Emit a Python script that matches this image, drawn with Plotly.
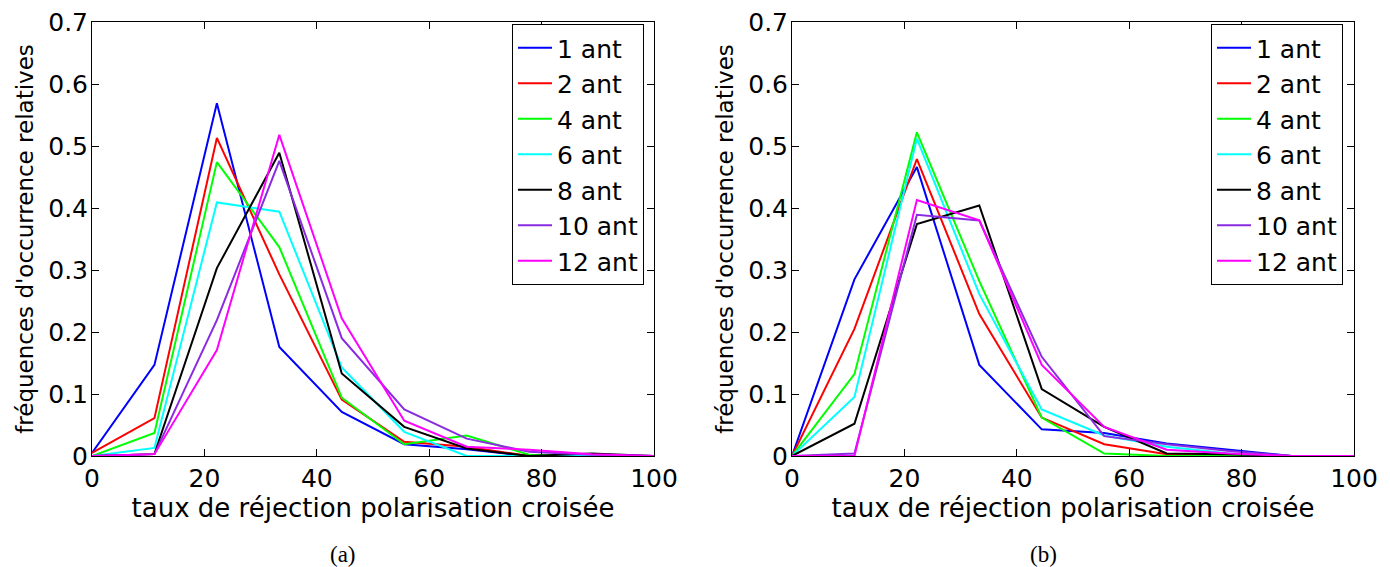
import plotly.graph_objects as go

x_bins = [0, 11.11, 22.22, 33.33, 44.44, 55.56, 66.67, 77.78, 88.89, 100]
labels = ["1 ant", "2 ant", "4 ant", "6 ant", "8 ant", "10 ant", "12 ant"]
colors = ["#0000FF", "#FF0000", "#00FF00", "#00FFFF", "#000000", "#8A2BE2", "#FF00FF"]

# panel (a)
a_1 = [0.005, 0.147, 0.569, 0.176, 0.071, 0.019, 0.011, 0.0, 0.0, 0.0]
a_2 = [0.005, 0.061, 0.513, 0.293, 0.091, 0.023, 0.015, 0.0, 0.0, 0.0]
a_4 = [0.0, 0.037, 0.474, 0.337, 0.094, 0.019, 0.033, 0.002, 0.0, 0.0]
a_6 = [0.0, 0.013, 0.409, 0.394, 0.143, 0.039, 0.0, 0.0, 0.0, 0.0]
a_8 = [0.0, 0.003, 0.303, 0.489, 0.133, 0.047, 0.012, 0.0, 0.004, 0.0]
a_10 = [0.0, 0.003, 0.219, 0.476, 0.190, 0.075, 0.028, 0.007, 0.002, 0.0]
a_12 = [0.0, 0.003, 0.171, 0.518, 0.222, 0.057, 0.015, 0.010, 0.003, 0.0]

# panel (b)
b_1 = [0.0, 0.285, 0.466, 0.147, 0.043, 0.037, 0.020, 0.010, 0.0, 0.0]
b_2 = [0.0, 0.205, 0.479, 0.229, 0.062, 0.019, 0.003, 0.0, 0.0, 0.0]
b_4 = [0.0, 0.132, 0.522, 0.282, 0.062, 0.004, 0.0, 0.0, 0.0, 0.0]
b_6 = [0.0, 0.095, 0.512, 0.261, 0.075, 0.033, 0.015, 0.004, 0.0, 0.0]
b_8 = [0.0, 0.052, 0.374, 0.404, 0.108, 0.047, 0.004, 0.003, 0.0, 0.0]
b_10 = [0.0, 0.004, 0.389, 0.380, 0.160, 0.032, 0.019, 0.008, 0.0, 0.0]
b_12 = [0.0, 0.0, 0.413, 0.380, 0.147, 0.047, 0.010, 0.004, 0.0, 0.0]

panel_a = [a_1, a_2, a_4, a_6, a_8, a_10, a_12]
panel_b = [b_1, b_2, b_4, b_6, b_8, b_10, b_12]

x_ticks = [0, 20, 40, 60, 80, 100]
y_ticks = [0, 0.1, 0.2, 0.3, 0.4, 0.5, 0.6, 0.7]
y_ticktext = ["0", "0.1", "0.2", "0.3", "0.4", "0.5", "0.6", "0.7"]
x_title = "taux de réjection polarisation croisée"
y_title = "fréquences d'occurrence relatives"
captions = ["(a)", "(b)"]

W, H = 1390, 567
OFF = 8  # page body margin offset in the screenshot
FONT = "DejaVu Sans, Verdana, sans-serif"
FS = 25

# plot-area margins (figure pixels)
ML, MR, MT, MB = 84, 44, 14, 119
PW = W - ML - MR
PH = H - MT - MB

def px_x(p):
    return (p - OFF - ML) / PW

def px_y(p):
    return (H - MB - (p - OFF)) / PH

fig = go.Figure()
for i, (lab, col) in enumerate(zip(labels, colors)):
    fig.add_trace(go.Scatter(x=x_bins, y=panel_a[i], mode="lines", name=lab,
                             line=dict(color=col, width=2), xaxis="x", yaxis="y",
                             legend="legend"))
for i, (lab, col) in enumerate(zip(labels, colors)):
    fig.add_trace(go.Scatter(x=x_bins, y=panel_b[i], mode="lines", name=lab,
                             line=dict(color=col, width=2), xaxis="x2", yaxis="y2",
                             legend="legend2"))

xdom1 = [px_x(92), px_x(654)]
xdom2 = [px_x(792), px_x(1354)]

def xax(dom, anchor):
    return dict(domain=dom, anchor=anchor, range=[0, 100], tickvals=x_ticks,
                ticks="inside", ticklen=7, tickcolor="black", showline=True,
                linecolor="black", linewidth=1, mirror="ticks", showgrid=False,
                zeroline=False, automargin="bottom", ticklabeloverflow="allow",
                tickfont=dict(size=FS, color="black", family=FONT),
                title=dict(text=x_title, standoff=3,
                           font=dict(size=26, color="black", family=FONT)))

def yax(anchor):
    return dict(domain=[0, 1], anchor=anchor, range=[0, 0.70001], tickvals=y_ticks,
                ticktext=y_ticktext, ticks="inside", ticklen=7, tickcolor="black",
                showline=True, linecolor="black", linewidth=1, mirror="ticks",
                showgrid=False, zeroline=False, automargin="left",
                ticklabelstandoff=-2, ticklabeloverflow="allow",
                tickfont=dict(size=FS, color="black", family=FONT),
                title=dict(text=y_title, standoff=8,
                           font=dict(size=23, color="black", family=FONT)))

def leg(xpos):
    return dict(x=px_x(xpos), y=px_y(24), xanchor="left", yanchor="top",
                bgcolor="white", bordercolor="black", borderwidth=1,
                font=dict(size=FS, color="black", family=FONT),
                itemwidth=34)

cap_font = dict(size=23, color="black", family="Liberation Serif, serif")
fig.update_layout(
    template="none",
    width=W, height=H, margin=dict(l=ML, r=MR, t=MT, b=MB, pad=0),
    paper_bgcolor="white", plot_bgcolor="white", showlegend=True,
    xaxis=xax(xdom1, "y"), yaxis=yax("x"),
    xaxis2=xax(xdom2, "y2"), yaxis2=yax("x2"),
    legend=leg(512), legend2=leg(1211),
    annotations=[
        dict(text=captions[0], x=px_x(343), y=px_y(554), xref="paper", yref="paper",
             xanchor="center", yanchor="middle", showarrow=False, font=cap_font),
        dict(text=captions[1], x=px_x(1043), y=px_y(554), xref="paper", yref="paper",
             xanchor="center", yanchor="middle", showarrow=False, font=cap_font),
    ],
)

fig.write_html("out.html")
